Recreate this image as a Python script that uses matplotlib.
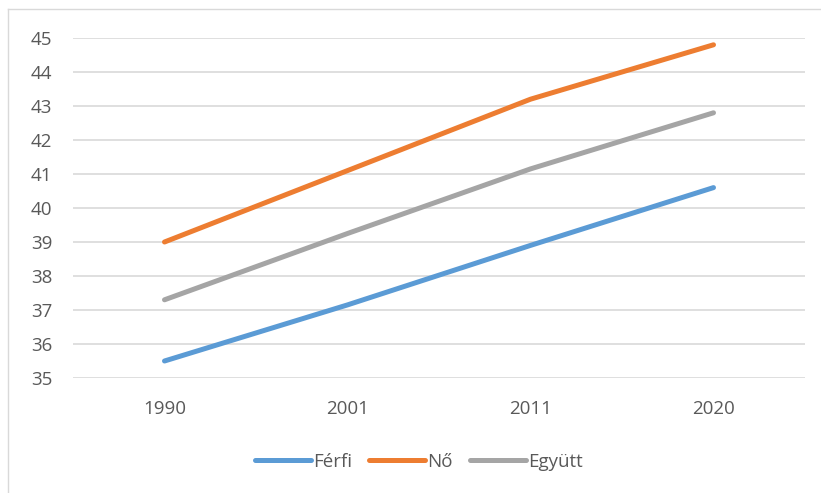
import matplotlib.pyplot as plt
from matplotlib.lines import Line2D

years = ["1990", "2001", "2011", "2020"]
ferfi = [35.5, 37.15, 38.9, 40.6]
no = [39.0, 41.1, 43.2, 44.8]
egyutt = [37.3, 39.25, 41.15, 42.8]

series = [("Férfi", ferfi, "#5B9BD5"), ("Nő", no, "#ED7D31"), ("Együtt", egyutt, "#A5A5A5")]

plt.rcParams['font.family'] = ['Open Sans', 'DejaVu Sans']
txt = "#595959"

fig = plt.figure(figsize=(8.21, 4.93), dpi=100)
ax = fig.add_axes([73/821, 1-378/493, (805-73)/821, (378-38)/493])

x = range(len(years))
for name, vals, col in series:
    ax.plot(x, vals, color=col, lw=3.6, solid_capstyle="round", label=name)

ax.set_xlim(-0.5, 3.5)
ax.set_ylim(35, 45)
ax.set_yticks(range(35, 46))
ax.set_xticks(list(x))
ax.set_xticklabels(years)
ax.grid(axis="y", color="#D9D9D9", lw=1.2)
ax.set_axisbelow(True)
for s in ax.spines.values():
    s.set_visible(False)
ax.tick_params(length=0, labelsize=13.5, colors=txt)
ax.tick_params(axis="y", pad=15)
ax.tick_params(axis="x", pad=16)

leg = fig.legend(handles=[Line2D([], [], color=c, lw=3.6, solid_capstyle="round") for _, _, c in series],
                 labels=[n for n, _, _ in series], loc="center", bbox_to_anchor=(0.51, 1-462/493),
                 ncol=3, frameon=False, fontsize=13.5, handlelength=3.0, handletextpad=0.1,
                 columnspacing=0.9, labelcolor=txt)

# chart area border
fig.add_artist(Line2D([8/821, 8/821], [0, 1-9/493], color="#D9D9D9", lw=1, transform=fig.transFigure))
fig.add_artist(Line2D([8/821, 1], [1-9/493, 1-9/493], color="#D9D9D9", lw=1, transform=fig.transFigure))

fig.savefig("out.png", dpi=100)
